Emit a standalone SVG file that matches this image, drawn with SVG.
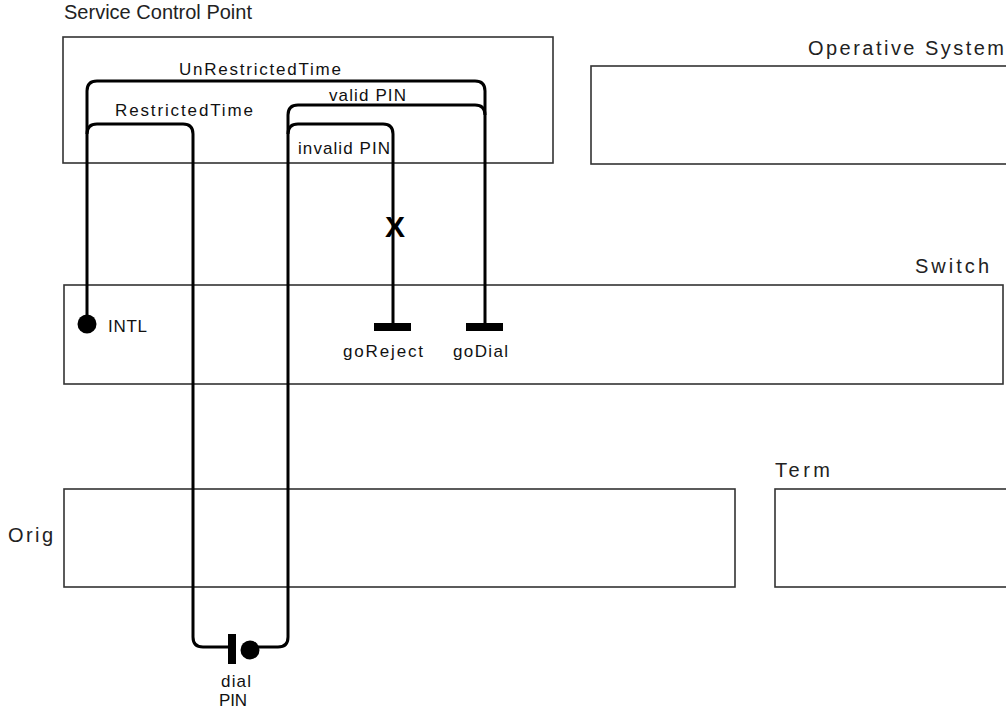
<svg xmlns="http://www.w3.org/2000/svg" width="1006" height="715" viewBox="0 0 1006 715">
  <style>
    .box { fill: none; stroke: #333; stroke-width: 1.6; }
    .title { font-family: "Liberation Sans", Arial, sans-serif; font-size: 20px; fill: #222; }
    .lbl { font-family: "Liberation Sans", Arial, sans-serif; font-size: 17px; fill: #111; }
    .wire { fill: none; stroke: #000; stroke-width: 3; stroke-linejoin: round; }
    .mark { fill: #000; }
  </style>
  <rect width="1006" height="715" fill="#fff"/>

  <!-- components -->
  <g id="service-control-point">
    <rect class="box" x="63" y="37" width="490" height="126"/>
    <text class="title" x="64" y="19" textLength="188" lengthAdjust="spacing">Service Control Point</text>
  </g>
  <g id="operative-system">
    <rect class="box" x="591" y="66" width="420" height="98"/>
    <text class="title" x="808" y="55" textLength="196" lengthAdjust="spacing">Operative System</text>
  </g>
  <g id="switch">
    <rect class="box" x="64" y="285" width="939" height="99"/>
    <text class="title" x="915" y="273" textLength="74" lengthAdjust="spacing">Switch</text>
  </g>
  <g id="orig">
    <rect class="box" x="64" y="489" width="671" height="98"/>
    <text class="title" x="8" y="542" textLength="45" lengthAdjust="spacing">Orig</text>
  </g>
  <g id="term">
    <rect class="box" x="775" y="489" width="240" height="98"/>
    <text class="title" x="775" y="477" textLength="55" lengthAdjust="spacing">Term</text>
  </g>

  <!-- signals -->
  <g id="connectors">
    <!-- UnRestrictedTime: INTL up and over to goDial -->
    <path class="wire" d="M87,316 V91 Q87,81 97,81 H475 Q485,81 485,91 V323"/>
    <!-- RestrictedTime: from INTL branch down to dial PIN -->
    <path class="wire" d="M87,134 Q87,124 97,124 H183 Q193,124 193,134 V637 Q193,647 203,647 H229"/>
    <!-- valid PIN: dial PIN up and over into goDial branch -->
    <path class="wire" d="M485,115 Q485,105 475,105 H298 Q288,105 288,115 V637 Q288,647 278,647 H258"/>
    <!-- invalid PIN: to goReject -->
    <path class="wire" d="M288,134 Q288,124 298,124 H383 Q393,124 393,134 V323"/>

    <text class="lbl" x="179" y="75" textLength="162" lengthAdjust="spacing">UnRestrictedTime</text>
    <text class="lbl" x="115" y="116" textLength="138" lengthAdjust="spacing">RestrictedTime</text>
    <text class="lbl" x="329" y="101" textLength="77" lengthAdjust="spacing">valid PIN</text>
    <text class="lbl" x="298" y="154" textLength="92" lengthAdjust="spacing">invalid PIN</text>
    <text x="395" y="237" text-anchor="middle" font-family="Liberation Sans, Arial, sans-serif" font-size="30" font-weight="bold">X</text>
  </g>

  <!-- endpoints -->
  <g id="intl">
    <circle class="mark" cx="87" cy="324" r="9.5"/>
    <text class="lbl" x="108" y="332" textLength="39" lengthAdjust="spacing">INTL</text>
  </g>
  <g id="goReject">
    <rect class="mark" x="374" y="323" width="37" height="8"/>
    <text class="lbl" x="343" y="357" textLength="80" lengthAdjust="spacing">goReject</text>
  </g>
  <g id="goDial">
    <rect class="mark" x="466" y="323" width="37" height="8"/>
    <text class="lbl" x="453" y="357" textLength="55" lengthAdjust="spacing">goDial</text>
  </g>
  <g id="dial-pin">
    <rect class="mark" x="228" y="634" width="8" height="30"/>
    <circle class="mark" cx="250" cy="650" r="9.5"/>
    <text class="lbl" x="221" y="687" textLength="30" lengthAdjust="spacing">dial</text>
    <text class="lbl" x="219" y="706" textLength="28" lengthAdjust="spacing">PIN</text>
  </g>
</svg>
